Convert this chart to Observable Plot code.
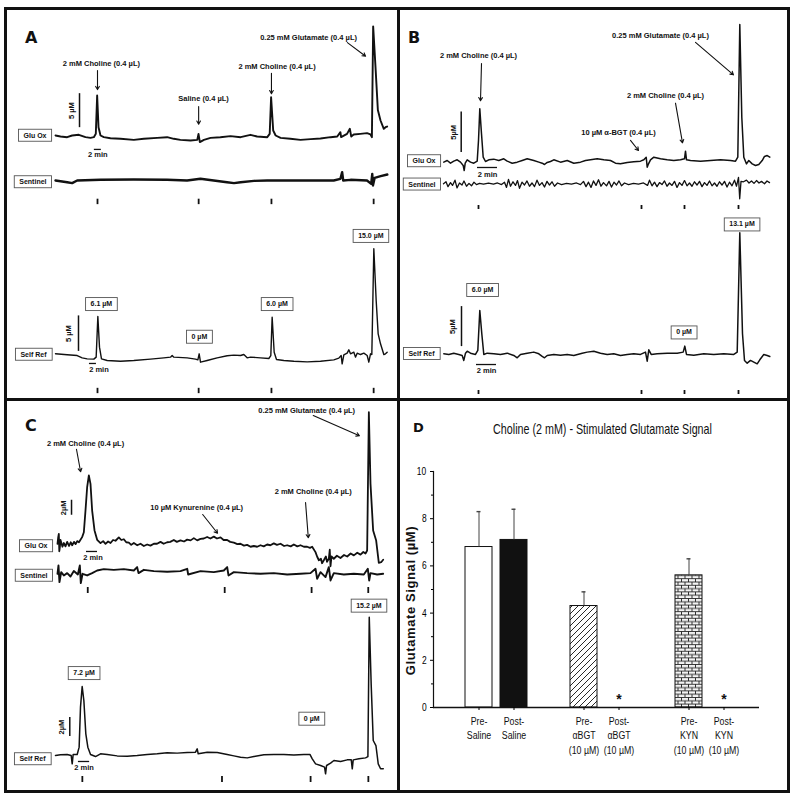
<!DOCTYPE html>
<html><head><meta charset="utf-8">
<script src="https://cdn.jsdelivr.net/npm/d3@7"></script>
<script src="https://cdn.jsdelivr.net/npm/@observablehq/plot@0.6"></script>
<style>
html,body{margin:0;padding:0;background:#fff;}
#fig{position:relative;width:800px;height:800px;overflow:hidden;background:#fff;}
.panel{position:absolute;width:400px;height:400px;}
.panel svg{position:absolute;left:0;top:0;background:transparent !important;max-width:none !important;overflow:visible;}
.letter{position:absolute;font-family:"DejaVu Sans",sans-serif;font-weight:bold;font-size:16px;line-height:16px;color:#111;}
.line{position:absolute;background:#111;}
.outer{position:absolute;border:3.5px solid #111;box-sizing:border-box;}
</style></head>
<body><div id="fig">
<div class="panel" id="pA" style="left:0;top:0"></div>
<div class="panel" id="pB" style="left:400px;top:0"></div>
<div class="panel" id="pC" style="left:0;top:400px"></div>
<div class="panel" id="pD" style="left:400px;top:400px"></div>
<div class="outer" style="left:4px;top:7px;width:786px;height:786px"></div>
<div class="line" style="left:397px;top:7px;width:3px;height:786px"></div>
<div class="line" style="left:4px;top:398px;width:786px;height:3px"></div>
<div class="letter" style="left:25px;top:30px">A</div>
<div class="letter" style="left:408px;top:30px">B</div>
<div class="letter" style="left:25px;top:418px">C</div>
<div class="letter" style="left:413px;top:420px;font-size:13px">D</div>
</div>
<script>
// ---------------- DATA ----------------
const traceNames = ["Glu Ox", "Sentinel", "Self Ref"];
const injectionsA = ["2 mM Choline (0.4 µL)", "Saline (0.4 µL)", "2 mM Choline (0.4 µL)", "0.25 mM Glutamate (0.4 µL)"];
const injectionsB = ["2 mM Choline (0.4 µL)", "10 µM α-BGT (0.4 µL)", "2 mM Choline (0.4 µL)", "0.25 mM Glutamate (0.4 µL)"];
const injectionsC = ["2 mM Choline (0.4 µL)", "10 µM Kynurenine (0.4 µL)", "2 mM Choline (0.4 µL)", "0.25 mM Glutamate (0.4 µL)"];
const peaksA = ["6.1 µM", "0 µM", "6.0 µM", "15.0 µM"];
const peaksB = ["6.0 µM", "0 µM", "13.1 µM"];
const peaksC = ["7.2 µM", "0 µM", "15.2 µM"];
const eventsA = [12.0, 40.9, 61.7, 90.9];   // min
const eventsB = [3.5, 19.8, 24.1, 29.5];
const eventsC = [5.5, 30.4, 46.2, 56.5];
const timeBarLabel = "2 min";

// traces: [time (min), signal (µM)]
const gluOxA = [[0,0.15],[1.43,0],[3.33,-0.1],[4.76,0.15],[6.67,0.25],[8.57,-0.1],[10.0,-0.2],[10.95,-0.1],[11.52,0.4],[11.9,6.03],[12.29,1.37],[12.86,0.15],[13.81,-0.1],[15.71,-0.25],[18.57,-0.34],[22.38,-0.49],[25.24,-0.34],[29.05,-0.2],[31.9,-0.1],[33.8,-0.34],[35.7,-0.49],[38.6,-0.59],[40.5,-0.49],[40.86,0.39],[41.24,-0.83],[42.4,-0.49],[44.3,-0.2],[47.1,-0.1],[50.0,0.05],[52.9,-0.1],[55.7,0.25],[57.6,0],[60.5,-0.1],[61.2,0.39],[61.6,5.78],[62.2,0.88],[62.9,0.15],[64.3,-0.2],[67.1,-0.34],[70.0,-0.49],[72.9,-0.39],[75.7,-0.29],[78.6,-0.1],[80.5,0],[81.4,0.64],[81.6,-0.1],[83.3,0.39],[84.1,1.13],[84.5,0],[85.2,0.3],[87.1,0.39],[89.0,0.49],[90.0,0.3],[90.4,-0.1],[90.76,16.2],[91.43,10.2],[92.1,3.9],[92.86,2.35],[93.8,1.13],[94.3,1.37],[94.76,1.47]];
const sentinelA = [[0,0],[3.33,-0.25],[4.76,-0.39],[6.19,0],[12.86,0.1],[22.38,0.15],[31.9,0.1],[37.6,0],[41.4,0.25],[45.2,0],[49.0,-0.25],[51.0,-0.39],[52.9,-0.25],[56.7,-0.05],[60.5,0],[70.0,0],[79.5,0],[81.4,0.25],[81.9,1.23],[82.2,0],[84.3,0.1],[89.0,0],[90.2,-0.49],[90.5,0.98],[90.7,-0.74],[91.2,0.39],[92.9,0.64],[94.8,0.88]];
const selfRefA = [[0,0.66],[3.33,0.52],[6.19,0.42],[7.62,0.09],[9.05,-0.05],[10.95,-0.09],[11.62,0.19],[12.1,5.92],[12.57,1.6],[13.14,-0.05],[14.76,-0.28],[18.57,-0.38],[22.38,-0.28],[27.14,-0.09],[30.95,0.09],[32.86,0.19],[33.33,0.42],[33.81,0.19],[37.62,0.09],[40.0,-0.09],[40.67,-0.19],[41.05,0.66],[41.43,-0.52],[43.33,-0.28],[46.19,0.09],[49.05,0.38],[50.95,0.47],[52.86,0.42],[53.81,0.56],[54.76,0.09],[55.71,0.19],[58.57,0.09],[60.95,0],[61.52,0.42],[61.9,5.82],[62.48,0.89],[63.14,-0.14],[65.24,-0.28],[68.1,-0.38],[71.9,-0.47],[75.71,-0.38],[79.52,-0.19],[80.95,0.05],[81.62,0.42],[81.9,-0.75],[82.38,0.52],[83.33,0.75],[83.81,1.22],[84.29,0.66],[85.24,0.89],[85.71,0.19],[86.19,0.75],[87.14,0.56],[88.1,0.75],[89.05,0.42],[89.52,-0.52],[90.0,0.66],[90.38,0.56],[90.95,15.45],[91.62,8.17],[92.19,3.47],[92.86,2.07],[93.81,0.56],[94.29,0.66],[94.76,0.89]];

const gluOxB = [[0.03,-0.08],[0.37,0.12],[0.7,-0.21],[1.03,0.04],[1.37,0.21],[1.7,-0.08],[1.97,-0.49],[2.07,-1.11],[2.17,-0.21],[2.37,0.21],[2.7,-0.08],[3.03,-0.21],[3.37,0.04],[3.5,2.59],[3.63,6.5],[3.8,3.42],[3.97,0.53],[4.2,0],[4.53,0.21],[5.03,0.29],[5.53,0.12],[6.03,0.33],[6.37,0.04],[6.87,-0.21],[7.37,-0.08],[7.87,0.12],[8.37,0.33],[9.03,0.12],[9.53,-0.08],[9.87,-0.21],[10.1,-0.37],[10.37,-0.12],[10.7,0],[11.03,0.21],[11.7,-0.08],[12.37,0.12],[13.03,-0.21],[13.7,-0.08],[14.2,0.12],[14.7,0.21],[15.37,0.33],[16.03,0.21],[16.7,0.12],[17.2,-0.21],[17.7,-0.29],[18.37,-0.12],[19.03,-0.04],[19.7,0.04],[20.03,0.21],[20.27,0.53],[20.37,-0.7],[20.5,-0.29],[20.7,0.21],[21.03,0.53],[21.7,0.33],[22.37,0.21],[23.03,0.12],[23.7,0.21],[24.1,0.33],[24.2,1.28],[24.3,0.21],[24.7,0.12],[25.7,0.04],[26.7,0.12],[27.7,0.21],[28.7,0.12],[29.2,0.04],[29.43,0.53],[29.63,16.9],[29.83,5.47],[30.03,0.53],[30.3,-0.29],[30.53,0.12],[30.87,-0.29],[31.2,-0.49],[31.53,-0.37],[31.87,0.12],[32.1,0.62],[32.37,0.74],[32.63,0.53]];
const sentinelB = [[0,0],[0.25,0.25],[0.45,-0.35],[0.7,0.15],[0.9,-0.2],[1.15,0.45],[1.35,-0.5],[1.6,0.1],[1.85,-0.15],[2.05,0.35],[2.3,-0.3],[2.55,0.05],[2.8,-0.25],[3.05,0.2],[3.3,-0.1],[3.6,0.05],[4.0,-0.05],[4.5,0.08],[5.0,-0.05],[5.4,0.1],[5.8,-0.1],[6.1,0.2],[6.3,-0.45],[6.5,0.55],[6.7,-0.3],[6.95,0.25],[7.2,-0.2],[7.4,0.4],[7.6,-0.55],[7.85,0.2],[8.1,-0.15],[8.35,0.35],[8.6,-0.3],[8.85,0.1],[9.1,-0.35],[9.35,0.45],[9.6,-0.2],[9.85,0.15],[10.1,-0.4],[10.35,0.3],[10.6,-0.15],[10.85,0.25],[11.1,-0.3],[11.4,0.1],[11.8,-0.1],[12.3,0.05],[12.8,-0.05],[13.3,0.1],[13.7,-0.1],[14.0,0.3],[14.25,-0.35],[14.5,0.2],[14.75,-0.45],[15.0,0.35],[15.25,-0.2],[15.5,0.5],[15.75,-0.3],[16.0,0.15],[16.3,-0.25],[16.55,0.3],[16.8,-0.4],[17.05,0.2],[17.3,-0.15],[17.55,0.35],[17.8,-0.25],[18.1,0.1],[18.5,-0.1],[19.0,0.05],[19.5,-0.05],[20.0,0.1],[20.4,-0.2],[20.6,0.45],[20.85,-0.25],[21.1,0.2],[21.35,-0.35],[21.6,0.15],[21.85,-0.1],[22.1,0.35],[22.35,-0.3],[22.6,0.1],[22.85,-0.2],[23.1,0.3],[23.35,-0.45],[23.6,0.15],[23.85,-0.2],[24.1,0.4],[24.35,-0.25],[24.6,0.1],[24.85,-0.3],[25.1,0.25],[25.35,-0.15],[25.6,0.3],[25.85,-0.35],[26.1,0.15],[26.35,-0.2],[26.6,0.35],[26.85,-0.25],[27.1,0.1],[27.35,-0.3],[27.6,0.25],[27.85,-0.15],[28.1,0.3],[28.35,-0.4],[28.6,0.2],[28.85,-0.25],[29.1,0.45],[29.3,-0.3],[29.5,0.8],[29.62,-1.85],[29.75,0.3],[30.0,0.25],[30.3,0.45],[30.55,0.1],[30.8,0.35],[31.05,0.05],[31.3,0.4],[31.55,0.1],[31.8,0.3],[32.1,0],[32.35,0.35],[32.6,0.15]];
const selfRefB = [[0.03,0],[0.53,-0.08],[1.03,0.08],[1.53,-0.08],[1.87,-0.21],[2.03,-0.83],[2.2,0.08],[2.37,0.33],[2.7,0.08],[3.2,-0.08],[3.43,0.42],[3.63,5.42],[3.83,2.5],[4.03,-0.08],[4.37,0.08],[5.03,0],[5.7,-0.08],[6.37,0.08],[7.03,-0.21],[7.37,-0.5],[7.7,-0.08],[8.37,0.08],[9.03,0.21],[9.53,0],[9.87,-0.33],[10.1,-0.5],[10.37,-0.21],[11.03,-0.08],[11.7,-0.17],[12.37,-0.08],[13.03,-0.21],[13.87,0.08],[14.37,0.21],[15.03,0.33],[15.7,0.08],[16.37,-0.08],[17.03,0],[17.7,-0.21],[18.37,-0.08],[19.03,0],[19.7,-0.08],[20.2,0.21],[20.37,-0.92],[20.53,0.5],[20.77,-0.08],[21.37,0],[22.37,0.08],[23.37,0.08],[23.97,0.21],[24.13,0.96],[24.3,-0.08],[25.03,-0.17],[26.03,0],[27.03,-0.08],[28.03,0],[29.03,-0.08],[29.37,0.21],[29.63,15.13],[29.9,2.5],[30.1,-0.83],[30.37,-1.17],[30.7,-0.83],[31.03,-1.04],[31.37,-1.25],[31.63,-0.75],[32.03,-0.08],[32.37,-0.21],[32.63,-0.33]];

const gluOxC = [[0,0.09],[0.12,0.9],[0.24,1.4],[0.33,-0.9],[0.42,-0.4],[0.55,0.6],[0.67,0.31],[0.9,-0.3],[1.15,0.2],[1.45,-0.25],[1.76,0.35],[2.1,-0.2],[2.4,0.3],[2.67,-0.1],[3.0,0.35],[3.3,0.05],[3.58,0.45],[3.9,0.3],[4.18,0.62],[4.48,0.98],[4.79,1.64],[5.09,4.53],[5.39,7.64],[5.7,9.2],[6.0,8.09],[6.3,4.53],[6.73,1.87],[7.21,0.62],[7.82,0.18],[8.3,0.45],[8.73,0.09],[9.2,0.4],[9.64,0.2],[10.1,0.6],[10.55,0.5],[11.15,0.95],[11.6,0.6],[12.06,0.7],[12.5,0.3],[12.97,0.25],[13.4,-0.05],[13.88,0.2],[14.5,-0.1],[15.09,0.1],[15.7,-0.2],[16.3,0],[16.9,-0.15],[17.52,0.1],[18.1,0.1],[18.73,0.35],[19.3,0.1],[19.94,0.3],[20.5,0.35],[21.15,0.6],[21.7,0.35],[22.36,0.55],[23.0,0.4],[23.58,0.65],[24.2,0.55],[24.79,0.85],[25.4,0.55],[26.0,0.75],[26.6,0.8],[27.21,1.0],[27.8,0.8],[28.42,1.05],[29.0,0.8],[29.64,0.95],[30.2,0.6],[30.85,0.6],[31.4,0.35],[32.06,0.25],[32.7,0.05],[33.27,0.1],[33.9,-0.15],[34.48,-0.05],[35.1,-0.3],[35.7,-0.2],[36.3,-0.3],[36.91,-0.1],[37.5,-0.25],[38.12,0],[38.7,-0.1],[39.33,0.15],[39.9,-0.05],[40.55,0.1],[41.2,-0.2],[41.76,-0.1],[42.4,-0.25],[42.97,0],[43.6,-0.25],[44.18,-0.1],[44.8,-0.3],[45.39,-0.3],[45.9,-0.45],[46.3,-0.3],[46.91,-1.02],[47.2,-1.6],[47.52,-2.1],[47.9,-1.9],[48.1,-2.5],[48.42,-2.1],[48.8,-1.6],[49.0,-2.3],[49.33,-1.9],[49.5,-0.7],[49.64,-2.9],[49.82,-1.6],[50.24,-1.9],[50.8,-1.5],[51.45,-1.8],[52.1,-1.4],[52.67,-1.6],[53.3,-1.2],[53.88,-1.45],[54.5,-1.1],[55.09,-1.35],[55.6,-1.0],[56.0,-1.2],[56.3,-0.8],[56.61,17.64],[56.91,8.09],[57.39,1.87],[57.94,0.53],[58.42,-2.44],[58.85,-2.36],[59.21,-2.04]];
const sentinelC = [[0,0],[0.18,1.11],[0.36,-1.11],[0.67,0.22],[1.15,-0.22],[1.76,0.09],[2.36,-0.36],[2.97,0.36],[3.7,-0.09],[4.06,1.11],[4.24,-1.24],[4.55,0],[5.39,-0.22],[6.3,0.09],[7.21,0.44],[8.42,0.62],[10.24,0.53],[12.06,0.62],[13.88,0.44],[14.48,0.89],[14.73,0.09],[15.7,0.53],[17.52,0.36],[19.94,0.27],[22.36,0.36],[23.58,0.67],[23.76,-0.09],[26.0,0.36],[28.42,0.22],[30.24,0.44],[30.85,0.89],[31.09,-0.22],[32.06,0.22],[34.48,0.09],[36.91,0],[39.33,0.09],[41.76,-0.09],[44.18,0],[46.0,0.09],[46.91,0.67],[47.21,-0.67],[47.82,0.22],[48.73,-0.44],[49.33,0.89],[49.64,-0.89],[50.24,0.09],[52.06,-0.09],[53.88,0],[55.7,-0.09],[56.42,0.67],[56.67,-0.89],[56.91,0.09],[58.12,-0.09],[59.21,0]];
const selfRefC = [[0.71,0],[1.61,0.07],[2.79,0.11],[3.51,0],[3.69,-0.88],[3.86,0.11],[4.58,0.11],[4.93,0.88],[5.17,5.09],[5.47,7.26],[5.77,5.79],[6.12,2.28],[6.48,0.88],[6.96,0.11],[7.85,-0.11],[8.74,0.18],[9.93,0.11],[11.71,-0.04],[13.5,-0.07],[15.28,0],[17.06,0.11],[18.85,0.18],[20.63,0.28],[22.41,0.25],[24.2,0.32],[25.68,0.35],[25.98,0.7],[26.16,0.18],[27.77,0.35],[29.55,0.32],[31.33,0.11],[32.52,-0.04],[33.71,-0.18],[34.9,-0.25],[36.09,-0.11],[37.87,0.07],[39.66,0.11],[41.44,0.11],[43.22,0.04],[45.01,0.11],[46.08,0.11],[46.5,-0.35],[47.09,-0.88],[47.98,-1.05],[48.69,-1.23],[48.87,-1.93],[49.05,-1.05],[49.76,-0.81],[50.36,-0.53],[51.55,-0.63],[52.73,-0.46],[53.45,-0.46],[53.63,-1.4],[53.8,-0.46],[54.82,-0.35],[56.0,-0.25],[56.42,-0.11],[56.66,14.56],[57.0,7.54],[57.37,1.58],[57.85,1.05],[58.26,-0.88],[58.68,-1.4],[59.16,-1.4]];

// Panel D
const dCats = ["Pre-Saline", "Post-Saline", "Pre-αBGT", "Post-αBGT", "Pre-KYN", "Post-KYN"];
const dMeans = [6.8, 7.1, 4.3, 0, 5.6, 0];
const dErrors = [1.5, 1.3, 0.6, 0, 0.7, 0];
const dTickLabels = ["Pre-\nSaline", "Post-\nSaline", "Pre-\nαBGT\n(10 µM)", "Post-\nαBGT\n(10 µM)", "Pre-\nKYN\n(10 µM)", "Post-\nKYN\n(10 µM)"];
const dSignificant = ["Post-αBGT", "Post-KYN"];
const dYTicks = [0, 2, 4, 6, 8, 10];
const dYMinorTicks = [1, 3, 5, 7, 9];
const dTitle = "Choline (2 mM) - Stimulated Glutamate Signal";
const dYLabel = "Glutamate Signal (µM)";

// ---------------- LAYOUT ----------------
const FONT = "'Liberation Sans', Arial, sans-serif";
const INK = "#111";
const SVGNS = "http://www.w3.org/2000/svg";
const small = {fontSize: 7.5, fontWeight: "bold", fontFamily: FONT, fill: INK};

const panels = [
  {id: "pA", data: [gluOxA, sentinelA, selfRefA], injections: injectionsA, peaks: peaksA, events: eventsA, scaleText: "5 µM",
   x: {domain: [0, 95], range: [55, 387.5]}, xSelf: {domain: [0, 95], range: [55, 387.5]},
   y: [{domain: [0, 5], range: [136, 102]}, {domain: [0, 5], range: [180, 146]}, {domain: [0, 5], range: [358, 322.5]}],
   sw: [1.9, 2.4, 1.4],
   L: {labels: [[13.1,10.7],[42.3,5.6],[63.3,10.3],[72.3,14.6]],
       arrows: [[12,9.7,12,6.9],[40.9,4.4,40.9,1.8],[61.7,9.3,61.7,6.3],[83.4,13.8,88.6,11.8]],
       peakPos: [[13.1,7.7],[41.1,3.1],[63.3,7.7],[90.1,17.3]],
       topTicks: [-2.75, -3.55], bottomTicks: [-4.2, -4.95],
       gluBar: {t: 6.86, y1: 1.3, y2: 6.3, dx: -8}, selfBar: {t: 6.57, y1: 1.0, y2: 6.0, dx: -10},
       gluTime: {t: 11.1, v: -1.9, dy: 5, dx: 0}, selfTime: {t: 9.7, v: -0.7, dy: 6, dx: 6},
       nameDx: [-9, -9, -9], nameDy: [-1, 1.5, -4]}},
  {id: "pB", data: [gluOxB, sentinelB, selfRefB], injections: injectionsB, peaks: peaksB, events: eventsB, scaleText: "5µM",
   x: {domain: [0, 32.6], range: [43, 369]}, xSelf: {domain: [0, 32.6], range: [43, 369]},
   y: [{domain: [0, 5], range: [161, 120.5]}, {domain: [0, 5], range: [183.3, 142.8]}, {domain: [0, 5], range: [353.3, 313.3]}],
   sw: [1.5, 1.3, 1.5],
   L: {labels: [[3.5,13.1],[17.5,3.6],[22.2,8.1],[21.7,15.6]],
       arrows: [[3.8,12.1,3.7,7.5],[18.7,2.6,19.5,1.36],[23.2,7.2,23.9,2.3],[25.2,14.7,29.0,10.7]],
       peakPos: [[3.9,8.0],[24.05,2.7],[29.85,16.2]],
       topTicks: [-2.68, -3.17], bottomTicks: [-4.59, -5.09],
       gluBar: {t: 1.77, y1: 1.1, y2: 6.1, dx: -8}, selfBar: {t: 1.8, y1: 0.9, y2: 5.9, dx: -9},
       gluTime: {t: 3.4, v: -0.74, dy: 7, dx: 0}, selfTime: {t: 3.3, v: -1.34, dy: 6, dx: 0},
       nameDx: [-8, -8, -9], nameDy: [-0.5, 0.5, 0]}},
  {id: "pC", data: [gluOxC, sentinelC, selfRefC], injections: injectionsC, peaks: peaksC, events: eventsC, scaleText: "2µM",
   x: {domain: [0, 59.2], range: [57, 382.6]}, xSelf: {domain: [0, 59.2], range: [51, 383]},
   y: [{domain: [0, 2], range: [144, 129]}, {domain: [0, 2], range: [173.3, 158.3]}, {domain: [0, 2], range: [355, 336]}],
   sw: [1.8, 1.9, 1.5],
   L: {labels: [[5.1,13.5],[25.3,4.9],[46.5,7.1],[45.3,17.9]],
       arrows: [[3.45,12.7,4.2,9.7],[26.4,4.0,29.1,1.5],[45.1,5.6,45.6,0.9],[46.5,17.2,54.9,14.5]],
       peakPos: [[5.8,8.7],[46.4,3.9],[56.6,15.8]],
       topTicks: [-1.83, -2.63], bottomTicks: [-2.21, -2.84],
       gluBar: {t: 2.55, y1: 3.9, y2: 5.9, dx: -8}, selfBar: {t: 3.26, y1: 2.0, y2: 4.0, dx: -8},
       gluTime: {t: 5.27, v: -0.93, dy: 6, dx: 1}, selfTime: {t: 4.8, v: -0.63, dy: 6, dx: 0},
       nameDx: [-10, -10, -6], nameDy: [1.5, 1.7, 3.5]}}
];

function tracePlot(x, y, data, sw, extra) {
  return Plot.plot({
    width: 400, height: 400, margin: 0,
    style: {background: "transparent", overflow: "visible"},
    x: {domain: x.domain, range: x.range, axis: null},
    y: {domain: y.domain, range: y.range, axis: null},
    marks: [
      Plot.line(data, {x: d => d[0], y: d => d[1], stroke: INK, strokeWidth: sw, strokeLinejoin: "round"}),
      ...extra
    ]
  });
}
function nameMark(p, k) {
  return Plot.text([traceNames[k]], {x: () => 0, y: () => 0, text: d => d, textAnchor: "end", dx: p.L.nameDx[k], dy: p.L.nameDy[k], ...small, fontSize: 7});
}
function scaleBarMarks(b, label) {
  return [
    Plot.ruleX([b], {x: d => d.t, y1: d => d.y1, y2: d => d.y2, stroke: INK, strokeWidth: 1.5}),
    Plot.text([label], {x: () => b.t, y: () => (b.y1 + b.y2) / 2, text: d => d, rotate: -90, dx: b.dx, ...small})
  ];
}
function timeBarMarks(b) {
  return [
    Plot.ruleY([b], {y: d => d.v, x1: d => d.t, x2: d => d.t + 2, stroke: INK, strokeWidth: 1.3}),
    Plot.text([timeBarLabel], {x: () => b.t + 1, y: () => b.v, text: d => d, dy: b.dy, dx: b.dx, ...small})
  ];
}

const boxed = new Set([...traceNames, ...peaksA, ...peaksB, ...peaksC]);
function addBoxes(svg) {
  d3.select(svg).selectAll("text").each(function () {
    if (!boxed.has(this.textContent)) return;
    const b = this.getBBox();
    const r = document.createElementNS(SVGNS, "rect");
    r.setAttribute("x", b.x - 5);
    r.setAttribute("y", b.y - 2.5);
    r.setAttribute("width", b.width + 10);
    r.setAttribute("height", b.height + 5);
    r.setAttribute("fill", "white");
    r.setAttribute("stroke", "#555");
    r.setAttribute("stroke-width", 0.9);
    const t = this.getAttribute("transform");
    if (t) r.setAttribute("transform", t);
    this.parentNode.insertBefore(r, this);
  });
}

for (const p of panels) {
  const host = document.getElementById(p.id);
  const L = p.L;
  const glu = tracePlot(p.x, p.y[0], p.data[0], p.sw[0], [
    Plot.text(p.injections, {x: (d, i) => L.labels[i][0], y: (d, i) => L.labels[i][1], text: d => d, ...small}),
    Plot.arrow(L.arrows, {x1: d => d[0], y1: d => d[1], x2: d => d[2], y2: d => d[3], stroke: INK, strokeWidth: 1.1, headLength: 5}),
    ...scaleBarMarks(L.gluBar, p.scaleText),
    ...timeBarMarks(L.gluTime),
    nameMark(p, 0)
  ]);
  const sen = tracePlot(p.x, p.y[1], p.data[1], p.sw[1], [
    Plot.ruleX(p.events, {x: d => d, y1: () => L.topTicks[0], y2: () => L.topTicks[1], stroke: INK, strokeWidth: 1.8}),
    nameMark(p, 1)
  ]);
  const self = tracePlot(p.xSelf, p.y[2], p.data[2], p.sw[2], [
    Plot.text(p.peaks, {x: (d, i) => L.peakPos[i][0], y: (d, i) => L.peakPos[i][1], text: d => d, ...small, fontSize: 7}),
    ...scaleBarMarks(L.selfBar, p.scaleText),
    ...timeBarMarks(L.selfTime),
    Plot.ruleX(p.events, {x: d => d, y1: () => L.bottomTicks[0], y2: () => L.bottomTicks[1], stroke: INK, strokeWidth: 1.8}),
    nameMark(p, 2)
  ]);
  for (const s of [glu, sen, self]) { host.appendChild(s); addBoxes(s); }
}

// ---------------- PANEL D ----------------
const dDomain = [dCats[0], dCats[1], " ", dCats[2], dCats[3], "  ", dCats[4], dCats[5]];
const barData = dCats.map((c, i) => ({cat: c, mean: dMeans[i], err: dErrors[i]}));
const fillOf = c => c === "Pre-Saline" ? "white" : c === "Post-Saline" ? INK : c === "Pre-αBGT" ? "url(#hatchD)" : c === "Pre-KYN" ? "url(#brickD)" : "none";

const dPlot = Plot.plot({
  width: 400, height: 400,
  marginLeft: 33, marginRight: 41, marginTop: 71, marginBottom: 93,
  style: {background: "transparent", overflow: "visible"},
  x: {domain: dDomain, range: [61.8, 340.6], paddingInner: 0.22, paddingOuter: 0, label: null},
  y: {domain: [0, 10], label: null},
  color: {type: "identity"},
  marks: [
    Plot.barY(barData.filter(d => d.mean > 0), {x: "cat", y: "mean", fill: d => fillOf(d.cat), stroke: INK, strokeWidth: 1}),
    Plot.ruleX(barData.filter(d => d.err > 0), {x: "cat", y1: d => d.mean, y2: d => d.mean + d.err, stroke: "#444", strokeWidth: 1}),
    Plot.tickY(barData.filter(d => d.err > 0), {x: "cat", y: d => d.mean + d.err, stroke: "#444", strokeWidth: 1.4, insetLeft: 11.5, insetRight: 11.5}),
    Plot.ruleY([0], {stroke: INK, strokeWidth: 1.3}),
    Plot.frame({anchor: "left", stroke: INK, strokeWidth: 1.2}),
    Plot.axisY({ticks: dYTicks, tickSize: 3, tickPadding: 3, fontSize: 11, fontFamily: FONT, label: null, tickFormat: d => String(d)}),
    Plot.axisY({ticks: dYMinorTicks, tickSize: 2, label: null, tickFormat: () => ""}),
    Plot.axisX({ticks: dCats, tickSize: 3, label: null, tickFormat: () => ""}),
    Plot.text(dCats, {x: d => d, y: () => 0, text: (d, i) => dTickLabels[i], dy: 7, lineAnchor: "top", lineHeight: 1.27, fontSize: 11.5, fontFamily: FONT, fill: INK}),
    Plot.text(dSignificant, {x: d => d, y: () => 0, text: () => "*", dy: -8, fontSize: 14, fontWeight: "bold", fontFamily: FONT, fill: INK}),
    Plot.text([dTitle], {frameAnchor: "top", text: d => d, dx: 6, dy: -42, lineAnchor: "middle", fontSize: 14, fontFamily: FONT, fill: INK}),
    Plot.text([dYLabel], {frameAnchor: "left", text: d => d, textAnchor: "middle", rotate: -90, dx: -23, dy: 11, fontSize: 13, fontWeight: "bold", fontFamily: FONT, fill: INK})
  ]
});
const defs = d3.select(dPlot).insert("defs", ":first-child");
const hatch = defs.append("pattern").attr("id", "hatchD").attr("patternUnits", "userSpaceOnUse").attr("width", 6).attr("height", 6);
hatch.append("rect").attr("width", 6).attr("height", 6).attr("fill", "white");
hatch.append("path").attr("d", "M-1,1 L1,-1 M0,6 L6,0 M5,7 L7,5").attr("stroke", INK).attr("stroke-width", 0.9);
const brick = defs.append("pattern").attr("id", "brickD").attr("patternUnits", "userSpaceOnUse").attr("width", 7).attr("height", 6.6);
brick.append("rect").attr("width", 7).attr("height", 6.6).attr("fill", "#f4f4f4");
brick.append("path").attr("d", "M0,0.5 H7 M0,3.8 H7 M1.5,0.5 V3.8 M5,3.8 V7.1").attr("stroke", "#222").attr("stroke-width", 0.9);
document.getElementById("pD").appendChild(dPlot);

// condense the narrow-font texts of panel D (title, tick labels) horizontally around their centres
const dTexts = [...dPlot.querySelectorAll("text")];
const titleEl = dTexts.find(t => t.textContent === dTitle);
const squeeze = titleEl ? 219 / titleEl.getBBox().width : 0.8;
for (const t of dTexts) {
  const c = t.textContent;
  if (!c || c === dYLabel || c === "*") {
    if (c === dYLabel) t.style.letterSpacing = "0.6px";
    continue;
  }
  const g = document.createElementNS(SVGNS, "g");
  t.parentNode.insertBefore(g, t);
  g.appendChild(t);
  const b = g.getBBox();
  const cx = b.x + b.width / 2;
  g.setAttribute("transform", `translate(${cx},0) scale(${squeeze},1) translate(${-cx},0)`);
}
</script>
</body></html>
